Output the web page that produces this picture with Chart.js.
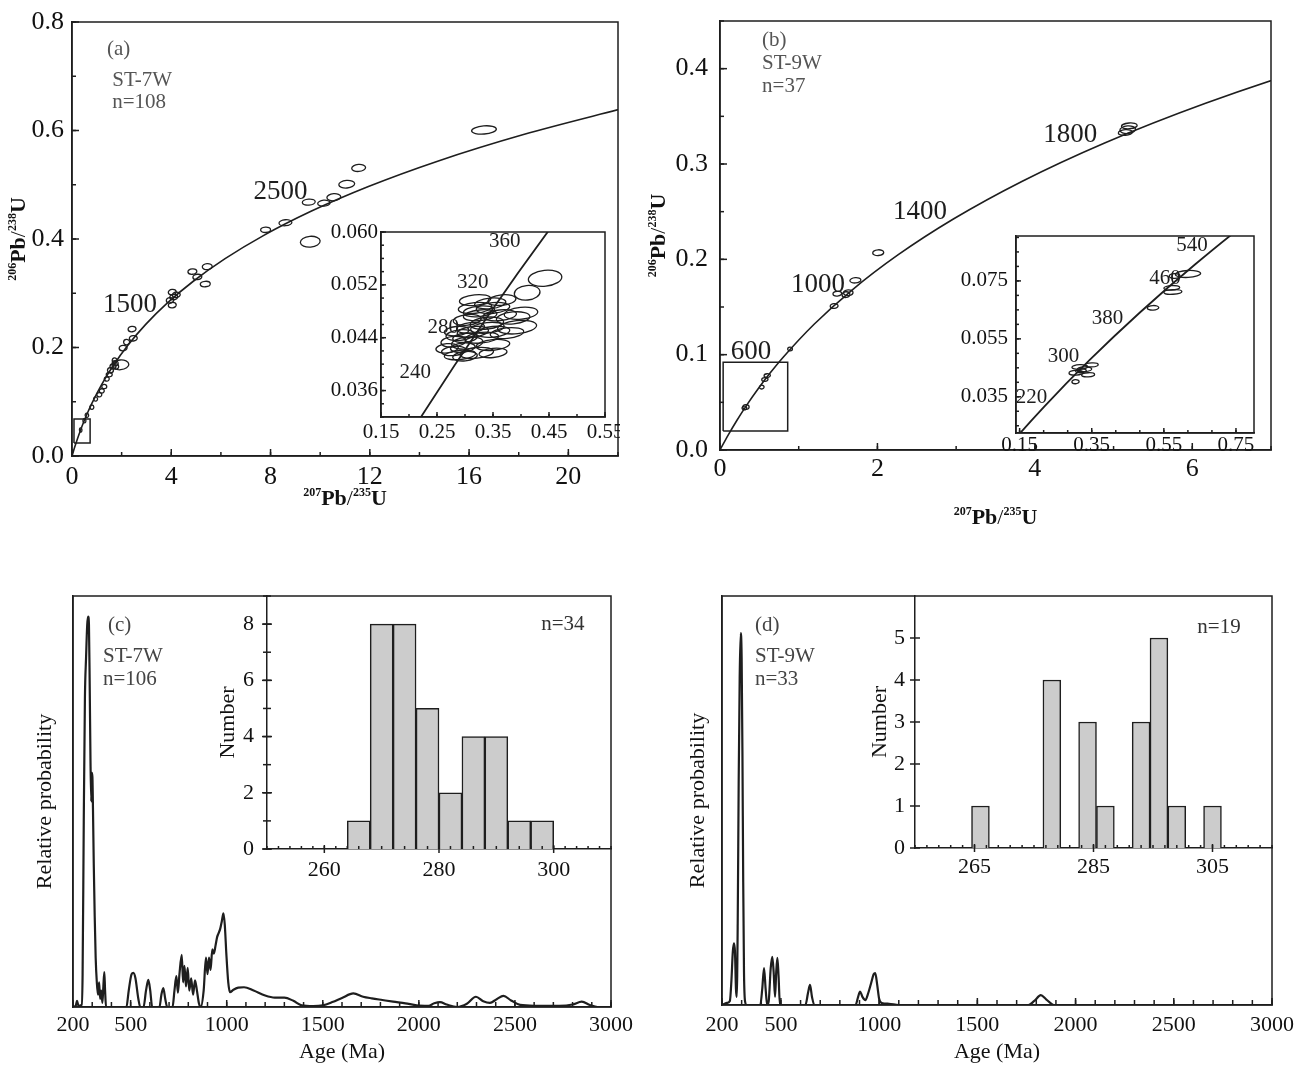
<!DOCTYPE html>
<html>
<head>
<meta charset="utf-8">
<title>Zircon U-Pb concordia and age spectra</title>
<script src="https://cdn.jsdelivr.net/npm/chart.js@4.4.1/dist/chart.umd.min.js"></script>
<style>
body { margin: 0; background: #fff; }
#page { position: relative; width: 1304px; height: 1066px; overflow: hidden; background: #fff; }
#page canvas { position: absolute; }
</style>
</head>
<body>
<div id="page">
  <canvas id="chart-a"></canvas>
  <canvas id="chart-b"></canvas>
  <canvas id="chart-c"></canvas>
  <canvas id="chart-d"></canvas>
  <canvas id="inset-a"></canvas>
  <canvas id="inset-b"></canvas>
  <canvas id="hist-c"></canvas>
  <canvas id="hist-d"></canvas>
</div>
<script>
// CONCORDIA CURVE (age Ma -> 207Pb/235U, 206Pb/238U)
const concAge = [0, 100, 200, 300, 400, 500, 600, 800, 1000, 1200, 1400, 1600, 1800, 2000, 2200, 2400, 2600, 2800, 3000, 3200];
const concX = [0, 0.1035, 0.2177, 0.3437, 0.4828, 0.6363, 0.8056, 1.1987, 1.6774, 2.2603, 2.9701, 3.8344, 4.8869, 6.1685, 7.7291, 9.6296, 11.9437, 14.7617, 18.1931, 22.3716];
const concY = [0, 0.01563, 0.03151, 0.04764, 0.06402, 0.08065, 0.09754, 0.13213, 0.16780, 0.20460, 0.24256, 0.28172, 0.32211, 0.36377, 0.40674, 0.45107, 0.49679, 0.54396, 0.59261, 0.64280];

// (a) ST-7W analyses: centre and 2-sigma half axes
const aEllX = [16.6, 11.55, 11.07, 10.55, 10.15, 9.54, 9.6, 8.6, 7.8, 5.45, 4.85, 5.05, 5.37, 4.04, 4.1, 4.04, 4.2, 3.95, 2.42, 2.47, 2.06, 1.95, 1.74, 1.65, 1.55, 1.5, 1.4, 1.3, 1.2, 1.1, 0.95, 0.8, 0.6, 0.5, 0.35, 1.72, 1.78, 2.2];
const aEllY = [0.601, 0.531, 0.501, 0.477, 0.466, 0.468, 0.395, 0.43, 0.417, 0.349, 0.34, 0.33, 0.317, 0.302, 0.293, 0.278, 0.297, 0.287, 0.234, 0.217, 0.199, 0.168, 0.171, 0.165, 0.158, 0.15, 0.142, 0.128, 0.12, 0.113, 0.105, 0.09, 0.075, 0.065, 0.048, 0.176, 0.165, 0.21];
const aEllSx = [0.5, 0.28, 0.32, 0.28, 0.25, 0.26, 0.4, 0.26, 0.2, 0.2, 0.18, 0.18, 0.2, 0.16, 0.16, 0.16, 0.16, 0.15, 0.16, 0.16, 0.16, 0.34, 0.12, 0.12, 0.12, 0.12, 0.1, 0.1, 0.1, 0.1, 0.08, 0.08, 0.07, 0.06, 0.05, 0.1, 0.1, 0.12];
const aEllSy = [0.0075, 0.0065, 0.007, 0.0065, 0.0055, 0.0055, 0.01, 0.0055, 0.005, 0.0055, 0.005, 0.005, 0.005, 0.005, 0.005, 0.005, 0.005, 0.005, 0.005, 0.005, 0.005, 0.009, 0.005, 0.005, 0.005, 0.004, 0.004, 0.004, 0.004, 0.004, 0.004, 0.004, 0.004, 0.004, 0.004, 0.005, 0.005, 0.005];
const aBoxX = [0.08, 0.73, 0.73, 0.08, 0.08];
const aBoxY = [0.024, 0.024, 0.068, 0.068, 0.024];

// (a) inset, young grains
const aInX = [0.443, 0.411, 0.366, 0.318, 0.318, 0.350, 0.386, 0.393, 0.339, 0.314, 0.291, 0.279, 0.304, 0.350, 0.321, 0.291, 0.350, 0.268, 0.327, 0.362, 0.304, 0.350, 0.375, 0.285, 0.300, 0.296, 0.330, 0.340, 0.310, 0.280, 0.325, 0.345, 0.400, 0.300];
const aInY = [0.0530, 0.0508, 0.0497, 0.0497, 0.0485, 0.0485, 0.0470, 0.0456, 0.0462, 0.0449, 0.0444, 0.0434, 0.0432, 0.0429, 0.0417, 0.0414, 0.0417, 0.0424, 0.0474, 0.0474, 0.0467, 0.0449, 0.0447, 0.0450, 0.0440, 0.0425, 0.0440, 0.0455, 0.0455, 0.0420, 0.0480, 0.0492, 0.0477, 0.0412];
const aInSx = [0.030, 0.023, 0.025, 0.028, 0.030, 0.030, 0.030, 0.035, 0.030, 0.028, 0.025, 0.022, 0.028, 0.030, 0.030, 0.028, 0.025, 0.020, 0.030, 0.030, 0.025, 0.030, 0.030, 0.022, 0.022, 0.022, 0.030, 0.030, 0.025, 0.022, 0.028, 0.028, 0.030, 0.022];
const aInSy = [0.0012, 0.0011, 0.0008, 0.0008, 0.0008, 0.0008, 0.0009, 0.0010, 0.0009, 0.0008, 0.0008, 0.0008, 0.0009, 0.0008, 0.0008, 0.0007, 0.0007, 0.0007, 0.0008, 0.0008, 0.0008, 0.0008, 0.0008, 0.0007, 0.0007, 0.0007, 0.0008, 0.0008, 0.0008, 0.0007, 0.0008, 0.0008, 0.0009, 0.0007];

// (b) ST-9W analyses
const bEllX = [5.18, 5.2, 5.15, 2.01, 1.72, 1.49, 1.63, 1.6, 1.45, 0.89, 0.6, 0.57, 0.53, 0.33, 0.31];
const bEllY = [0.336, 0.340, 0.333, 0.207, 0.178, 0.164, 0.165, 0.163, 0.151, 0.106, 0.078, 0.074, 0.066, 0.045, 0.044];
const bEllSx = [0.1, 0.1, 0.09, 0.07, 0.07, 0.055, 0.06, 0.05, 0.05, 0.03, 0.04, 0.04, 0.03, 0.04, 0.03];
const bEllSy = [0.004, 0.003, 0.003, 0.003, 0.0028, 0.0025, 0.003, 0.003, 0.0025, 0.002, 0.002, 0.002, 0.002, 0.0025, 0.002];
const bBoxX = [0.04, 0.86, 0.86, 0.04, 0.04];
const bBoxY = [0.02, 0.02, 0.092, 0.092, 0.02];

// (b) inset
const bInX = [0.617, 0.58, 0.572, 0.575, 0.52, 0.317, 0.35, 0.307, 0.34, 0.305, 0.33, 0.32];
const bInY = [0.0774, 0.0767, 0.0726, 0.0712, 0.0657, 0.0453, 0.046, 0.0433, 0.0426, 0.0402, 0.0445, 0.0440];
const bInSx = [0.035, 0.015, 0.022, 0.025, 0.016, 0.022, 0.018, 0.02, 0.018, 0.01, 0.02, 0.015];
const bInSy = [0.0012, 0.0008, 0.0008, 0.0008, 0.0008, 0.0008, 0.0007, 0.0008, 0.0007, 0.0007, 0.0008, 0.0007];

// (c) ST-7W relative probability
const cAge = [200, 214, 221, 228, 245, 250, 256, 262, 268, 274, 279, 283, 287, 291, 295, 298, 301, 304, 308, 313,
  318, 324, 330, 336, 341, 347, 353, 358, 363, 367, 372, 470, 478, 490, 505, 514, 525, 540, 550, 567,
  580, 592, 602, 612, 650, 660, 670, 680, 690, 718, 728, 738, 746, 754, 766, 773, 780, 788, 797, 805,
  815, 825, 835, 845, 855, 865, 880, 892, 900, 908, 916, 925, 933, 942, 950, 958, 966, 975, 983, 990,
  998, 1008, 1017, 1035, 1060, 1090, 1140, 1200, 1250, 1300, 1347, 1390, 1450, 1500, 1550, 1600, 1659, 1710, 1755, 1810,
  1866, 1930, 1989, 2050, 2080, 2110, 2145, 2200, 2250, 2297, 2335, 2370, 2405, 2440, 2480, 2527, 2600, 2730, 2800, 2848,
  2890, 2930, 3000];
const cProb = [0, 0.003, 0.015, 0.003, 0.005, 0.08, 0.45, 0.75, 0.85, 0.93, 0.95, 0.93, 0.78, 0.6, 0.5, 0.57, 0.56, 0.48, 0.35, 0.22,
  0.12, 0.06, 0.03, 0.06, 0.02, 0.04, 0.01, 0.05, 0.085, 0.04, 0, 0, 0, 0.04, 0.08, 0.083, 0.07, 0.02, 0, 0,
  0.04, 0.066, 0.04, 0, 0, 0.03, 0.046, 0.02, 0, 0, 0.04, 0.075, 0.035, 0.08, 0.127, 0.06, 0.1, 0.05, 0.095, 0.04,
  0.07, 0.03, 0.065, 0.04, 0.01, 0, 0.04, 0.12, 0.08, 0.12, 0.09, 0.14, 0.13, 0.15, 0.17, 0.18, 0.19, 0.21, 0.228, 0.2,
  0.13, 0.06, 0.036, 0.042, 0.047, 0.048, 0.04, 0.028, 0.023, 0.023, 0.015, 0.004, 0.002, 0.004, 0.012, 0.022, 0.033, 0.025, 0.021, 0.017,
  0.013, 0.009, 0.004, 0.003, 0.009, 0.012, 0.006, 0, 0.008, 0.025, 0.014, 0.01, 0.019, 0.027, 0.016, 0.005, 0.003, 0.003, 0.006, 0.013,
  0.005, 0, 0];

// (d) ST-9W relative probability
const dAge = [200, 225, 240, 248, 255, 261, 266, 271, 275, 280, 285, 290, 295, 300, 304, 308, 312, 317, 325, 395,
  405, 414, 422, 430, 438, 448, 456, 463, 470, 476, 482, 488, 495, 625, 638, 648, 658, 670, 880, 893,
  903, 915, 930, 945, 960, 972, 980, 990, 1000, 1013, 1050, 1100, 1760, 1790, 1823, 1850, 1890, 3000];
const dProb = [0, 0.005, 0.01, 0.06, 0.13, 0.151, 0.13, 0.04, 0.02, 0.2, 0.55, 0.8, 0.909, 0.85, 0.62, 0.3, 0.08, 0.01, 0, 0,
  0.04, 0.09, 0.04, 0, 0.01, 0.09, 0.118, 0.08, 0.02, 0.08, 0.115, 0.07, 0, 0, 0.03, 0.049, 0.02, 0, 0, 0.02,
  0.033, 0.02, 0.012, 0.03, 0.055, 0.075, 0.078, 0.05, 0.015, 0.005, 0.003, 0, 0, 0.01, 0.024, 0.014, 0, 0];

// histograms (bin centre, count)
const histCBins = [266, 270, 274, 278, 282, 286, 290, 294, 298];
const histCCounts = [1, 8, 8, 5, 2, 4, 4, 1, 1];
const histDBins = [266, 278, 284, 287, 293, 296, 299, 305];
const histDCounts = [1, 4, 3, 1, 3, 5, 1, 1];

// tick labels
const ageTicks = [200, 500, 1000, 1500, 2000, 2500, 3000];
const aXTicks = [0, 4, 8, 12, 16, 20];
const aYTicks = [0, 0.2, 0.4, 0.6, 0.8];
const bXTicks = [0, 2, 4, 6];
const bYTicks = [0, 0.1, 0.2, 0.3, 0.4];
const aInXTicks = [0.15, 0.25, 0.35, 0.45, 0.55];
const aInYTicks = [0.036, 0.044, 0.052, 0.060];
const bInXTicks = [0.15, 0.35, 0.55, 0.75];
const bInYTicks = [0.035, 0.055, 0.075];
const histCXTicks = [260, 280, 300];
const histCYTicks = [0, 2, 4, 6, 8];
const histDXTicks = [265, 285, 305];
const histDYTicks = [0, 1, 2, 3, 4, 5];

// axis titles with superscript mass numbers
const pb207Title = [{ t: '207', sup: true }, { t: 'Pb' }, { t: '/', plain: true }, { t: '235', sup: true }, { t: 'U' }];
const pb206Title = [{ t: '206', sup: true }, { t: 'Pb' }, { t: '/', plain: true }, { t: '238', sup: true }, { t: 'U' }];

const FONT = 'Liberation Serif';
const INK = '#1e1e1e';

function steps(a, b, d) {
    const out = [];
    for (let v = a; v <= b + d / 1000; v += d) out.push(Math.round(v * 1e6) / 1e6);
    return out;
}
function pairs(xs, ys) {
    return xs.map((x, i) => ({ x: x, y: ys[i] }));
}

// PLUGINS
// error ellipses, sized from the scales
const ellipsePlugin = {
    id: 'ellipses',
    afterDatasetsDraw(chart) {
        const ctx = chart.ctx, xs = chart.scales.x, ys = chart.scales.y, a = chart.chartArea;
        ctx.save();
        ctx.beginPath();
        ctx.rect(a.left, a.top, a.right - a.left, a.bottom - a.top);
        ctx.clip();
        chart.data.datasets.forEach(ds => {
            if (!ds.sx) return;
            ctx.strokeStyle = INK;
            ctx.lineWidth = 1.3;
            ds.data.forEach((p, i) => {
                const cx = xs.getPixelForValue(p.x), cy = ys.getPixelForValue(p.y);
                const rx = Math.abs(xs.getPixelForValue(p.x + ds.sx[i]) - cx);
                const ry = Math.abs(ys.getPixelForValue(p.y + ds.sy[i]) - cy);
                ctx.beginPath();
                ctx.ellipse(cx, cy, rx, ry, ds.tilt || 0, 0, Math.PI * 2);
                ctx.stroke();
            });
        });
        ctx.restore();
    }
};

// box round the plot and inward ticks
const framePlugin = {
    id: 'frame',
    afterDraw(chart, args, opts) {
        const ctx = chart.ctx, a = chart.chartArea;
        ctx.save();
        ctx.strokeStyle = INK;
        ctx.lineWidth = 1.5;
        if (opts.box) ctx.strokeRect(a.left, a.top, a.right - a.left, a.bottom - a.top);
        ['x', 'y'].forEach(id => {
            const t = opts[id];
            if (!t) return;
            const s = chart.scales[id];
            const marks = [];
            (t.minorAt || []).forEach(v => marks.push([v, t.minorLen || 0, t.minorOut || 0]));
            s.ticks.forEach(tk => marks.push([tk.value, t.len || 0, t.out || 0]));
            marks.forEach(m => {
                const p = s.getPixelForValue(m[0]);
                ctx.beginPath();
                if (id === 'x') { ctx.moveTo(p, a.bottom + m[2]); ctx.lineTo(p, a.bottom - m[1]); }
                else { ctx.moveTo(a.left - m[2], p); ctx.lineTo(a.left + m[1], p); }
                ctx.stroke();
            });
        });
        ctx.restore();
    }
};

// text placed at data coordinates
const notesPlugin = {
    id: 'notes',
    afterDraw(chart, args, opts) {
        const ctx = chart.ctx;
        ctx.save();
        (opts.items || []).forEach(n => {
            ctx.font = (n.size || 21) + 'px "' + FONT + '"';
            ctx.fillStyle = n.color || INK;
            ctx.textAlign = n.align || 'left';
            ctx.textBaseline = 'middle';
            ctx.fillText(n.text, chart.scales.x.getPixelForValue(n.x), chart.scales.y.getPixelForValue(n.y));
        });
        ctx.restore();
    }
};

// isotope ratio axis titles (small superscripts, bold symbols)
const ratioTitlePlugin = {
    id: 'ratioTitle',
    afterDraw(chart, args, opts) {
        const ctx = chart.ctx, a = chart.chartArea;
        const fontOf = p => p.sup ? 'bold 12px "' + FONT + '"' : (p.plain ? '22px "' + FONT + '"' : 'bold 22px "' + FONT + '"');
        function draw(parts, cx, cy, rot) {
            ctx.save();
            ctx.translate(cx, cy);
            ctx.rotate(rot);
            let w = 0;
            parts.forEach(p => { ctx.font = fontOf(p); w += ctx.measureText(p.t).width; });
            let x = -w / 2;
            ctx.fillStyle = '#111';
            ctx.textAlign = 'left';
            ctx.textBaseline = 'alphabetic';
            parts.forEach(p => {
                ctx.font = fontOf(p);
                ctx.fillText(p.t, x, p.sup ? -2 : 7);
                x += ctx.measureText(p.t).width;
            });
            ctx.restore();
        }
        if (opts.x) draw(opts.x.parts, (a.left + a.right) / 2, a.bottom + opts.x.off, 0);
        if (opts.y) draw(opts.y.parts, a.left - opts.y.off, (a.top + a.bottom) / 2, -Math.PI / 2);
    }
};

// SCALES
function axis(o) {
    return {
        type: 'linear',
        min: o.min,
        max: o.max,
        offset: false,
        grid: { display: false, drawTicks: false },
        border: { display: true, color: INK, width: 1.5 },
        afterBuildTicks: s => { s.ticks = o.major.map(v => ({ value: v })); },
        afterFit: s => {
            if (o.w !== undefined) s.width = o.w;
            if (o.h !== undefined) s.height = o.h;
            s.paddingLeft = 0; s.paddingRight = 0; s.paddingTop = 0; s.paddingBottom = 0;
        },
        ticks: {
            display: o.show !== false,
            autoSkip: false,
            maxRotation: 0,
            minRotation: 0,
            padding: o.pad || 0,
            color: '#111',
            font: { family: FONT, size: o.size || 22 },
            callback: v => o.fmt ? o.fmt(v) : String(v)
        },
        title: o.title ? {
            display: true,
            text: o.title,
            color: '#111',
            font: { family: FONT, size: 22 },
            padding: o.tpad
        } : { display: false }
    };
}

function makeChart(id, box, area, type, datasets, xo, yo, frame, notes, titles) {
    const cv = document.getElementById(id);
    cv.width = box[2];
    cv.height = box[3];
    cv.style.left = box[0] + 'px';
    cv.style.top = box[1] + 'px';
    xo.h = box[1] + box[3] - area[3];
    yo.w = area[0] - box[0];
    return new Chart(cv.getContext('2d'), {
        type: type,
        data: { datasets: datasets },
        options: {
            responsive: false,
            animation: false,
            events: [],
            layout: { padding: { left: 0, top: area[1] - box[1], right: box[0] + box[2] - area[2], bottom: 0 } },
            scales: { x: axis(xo), y: axis(yo) },
            plugins: {
                legend: { display: false },
                tooltip: { enabled: false },
                frame: frame,
                notes: { items: notes },
                ratioTitle: titles || {}
            }
        },
        plugins: [ellipsePlugin, framePlugin, notesPlugin, ratioTitlePlugin]
    });
}

function curveSet(xs, ys, w) {
    return { data: pairs(xs, ys), showLine: true, pointRadius: 0, borderColor: INK, borderWidth: w, cubicInterpolationMode: 'monotone', fill: false };
}
function boxSet(xs, ys) {
    return { data: pairs(xs, ys), showLine: true, pointRadius: 0, borderColor: INK, borderWidth: 1.5, tension: 0, fill: false };
}
function ellSet(xs, ys, sx, sy, tilt) {
    return { data: pairs(xs, ys), sx: sx, sy: sy, tilt: tilt, showLine: false, pointRadius: 0 };
}
function barSet(bins, counts) {
    return { data: pairs(bins, counts), backgroundColor: '#cccccc', borderColor: INK, borderWidth: 1.5, barPercentage: 1, categoryPercentage: 1 };
}

const fmt1 = v => v.toFixed(1);
const fmt2 = v => v.toFixed(2);
const fmt3 = v => v.toFixed(3);
const gray = '#555';

// CONCORDIA (a)
function loadChartA() {
    makeChart('chart-a', [0, 0, 645, 525], [72, 22, 618, 456], 'scatter',
        [curveSet(concX, concY, 1.6), ellSet(aEllX, aEllY, aEllSx, aEllSy, -0.08), boxSet(aBoxX, aBoxY)],
        { min: 0, max: 22, major: aXTicks, size: 26, pad: 6 },
        { min: 0, max: 0.8, major: aYTicks, size: 26, pad: 8, fmt: fmt1 },
        { box: true, x: { len: 7, minorLen: 4, minorAt: steps(0, 22, 2) }, y: { len: 7, minorLen: 4, minorAt: steps(0, 0.8, 0.1) } },
        [
            { x: 1.41, y: 0.75, text: '(a)', color: gray },
            { x: 1.62, y: 0.693, text: 'ST-7W', color: gray },
            { x: 1.62, y: 0.652, text: 'n=108', color: gray },
            { x: 2.34, y: 0.278, text: '1500', size: 27, align: 'center' },
            { x: 8.4, y: 0.487, text: '2500', size: 27, align: 'center' }
        ],
        { x: { parts: pb207Title, off: 42 }, y: { parts: pb206Title, off: 54 } });
}

function loadInsetA() {
    makeChart('inset-a', [315, 222, 305, 232], [381, 232, 605, 417], 'scatter',
        [curveSet(concX, concY, 1.8), ellSet(aInX, aInY, aInSx, aInSy, -0.1)],
        { min: 0.15, max: 0.55, major: aInXTicks, size: 21, pad: 3, fmt: fmt2 },
        { min: 0.032, max: 0.060, major: aInYTicks, size: 21, pad: 3, fmt: fmt3 },
        { box: true, x: { len: 5, minorLen: 3, minorAt: steps(0.15, 0.55, 0.05) }, y: { len: 5, minorLen: 3, minorAt: steps(0.032, 0.06, 0.002) } },
        [
            { x: 0.371, y: 0.0585, text: '360', align: 'center' },
            { x: 0.314, y: 0.0523, text: '320', align: 'center' },
            { x: 0.261, y: 0.0455, text: '280', align: 'center' },
            { x: 0.211, y: 0.0388, text: '240', align: 'center' }
        ]);
}

// CONCORDIA (b)
function loadChartB() {
    makeChart('chart-b', [640, 0, 664, 540], [720, 21, 1271, 450], 'scatter',
        [curveSet(concX, concY, 1.6), ellSet(bEllX, bEllY, bEllSx, bEllSy, -0.08), boxSet(bBoxX, bBoxY)],
        { min: 0, max: 7, major: bXTicks, size: 26, pad: 4 },
        { min: 0, max: 0.45, major: bYTicks, size: 26, pad: 12, fmt: fmt1 },
        { box: true, x: { len: 7, minorLen: 4, minorAt: steps(0, 7, 1) }, y: { len: 7, minorLen: 4, minorAt: steps(0, 0.45, 0.05) } },
        [
            { x: 0.534, y: 0.43, text: '(b)', color: gray },
            { x: 0.534, y: 0.405, text: 'ST-9W', color: gray },
            { x: 0.534, y: 0.381, text: 'n=37', color: gray },
            { x: 4.45, y: 0.331, text: '1800', size: 27, align: 'center' },
            { x: 2.54, y: 0.25, text: '1400', size: 27, align: 'center' },
            { x: 1.245, y: 0.173, text: '1000', size: 27, align: 'center' },
            { x: 0.394, y: 0.103, text: '600', size: 27, align: 'center' }
        ],
        { x: { parts: pb207Title, off: 67 }, y: { parts: pb206Title, off: 62 } });
}

function loadInsetB() {
    makeChart('inset-b', [950, 226, 320, 231], [1016, 236, 1254, 433], 'scatter',
        [curveSet(concX, concY, 1.8), ellSet(bInX, bInY, bInSx, bInSy, -0.05)],
        { min: 0.14, max: 0.8, major: bInXTicks, size: 21, pad: 0, fmt: fmt2 },
        { min: 0.0225, max: 0.0905, major: bInYTicks, size: 21, pad: 8, fmt: fmt3 },
        { box: true, x: { len: 5, minorLen: 3, minorAt: steps(0.15, 0.75, 0.2 / 3) }, y: { len: 5, minorLen: 3, minorAt: steps(0.025, 0.09, 0.005) } },
        [
            { x: 0.628, y: 0.0871, text: '540', align: 'center' },
            { x: 0.553, y: 0.0757, text: '460', align: 'center' },
            { x: 0.394, y: 0.0622, text: '380', align: 'center' },
            { x: 0.272, y: 0.0488, text: '300', align: 'center' },
            { x: 0.183, y: 0.0347, text: '220', align: 'center' }
        ]);
}

// PROBABILITY PLOTS (c), (d)
function loadChartC() {
    makeChart('chart-c', [0, 570, 640, 496], [73, 596, 611, 1007], 'scatter',
        [curveSet(cAge, cProb, 2.2)],
        { min: 200, max: 3000, major: ageTicks, size: 22, pad: 5, title: 'Age (Ma)', tpad: { bottom: 1 } },
        { min: 0, max: 1, major: [0, 1], show: false, title: 'Relative probability', tpad: { top: 32 } },
        { box: true, x: { len: 7, minorLen: 5, minorAt: steps(200, 3000, 100) } },
        [
            { x: 382, y: 0.929, text: '(c)', color: '#444' },
            { x: 356, y: 0.852, text: 'ST-7W', color: '#444' },
            { x: 356, y: 0.796, text: 'n=106', color: '#444' }
        ]);
}

function loadChartD() {
    makeChart('chart-d', [650, 570, 654, 496], [722, 596, 1272, 1005], 'scatter',
        [curveSet(dAge, dProb, 2.2)],
        { min: 200, max: 3000, major: ageTicks, size: 22, pad: 7, title: 'Age (Ma)', tpad: { bottom: 1 } },
        { min: 0, max: 1, major: [0, 1], show: false, title: 'Relative probability', tpad: { top: 35 } },
        { box: true, x: { len: 7, minorLen: 5, minorAt: steps(200, 3000, 100) } },
        [
            { x: 368, y: 0.929, text: '(d)', color: '#444' },
            { x: 368, y: 0.851, text: 'ST-9W', color: '#444' },
            { x: 368, y: 0.795, text: 'n=33', color: '#444' }
        ]);
}

// HISTOGRAMS
function loadHistC() {
    makeChart('hist-c', [195, 580, 425, 305], [267, 596, 611, 849], 'bar',
        [barSet(histCBins, histCCounts)],
        { min: 250, max: 310, major: histCXTicks, size: 22, pad: 8 },
        { min: 0, max: 9, major: histCYTicks, size: 22, pad: 13, title: 'Number', tpad: { top: 20 } },
        { x: { len: 4, out: 4, minorLen: 3, minorAt: steps(250, 310, 2) }, y: { len: 5, out: 5, minorLen: 4, minorOut: 4, minorAt: steps(0, 9, 1) } },
        [{ x: 301.6, y: 8.0, text: 'n=34', align: 'center', color: '#333' }]);
}

function loadHistD() {
    makeChart('hist-d', [845, 580, 435, 305], [915, 596, 1272, 848], 'bar',
        [barSet(histDBins, histDCounts)],
        { min: 255, max: 315, major: histDXTicks, size: 22, pad: 6 },
        { min: 0, max: 6, major: histDYTicks, size: 22, pad: 10, title: 'Number', tpad: { top: 22 } },
        { x: { len: 4, out: 4, minorLen: 3, minorAt: steps(255, 315, 2) }, y: { len: 5, out: 5 } },
        [{ x: 306.1, y: 5.24, text: 'n=19', align: 'center', color: '#333' }]);
}

// INIT
function initPage() {
    loadChartA();
    loadChartB();
    loadChartC();
    loadChartD();
    loadInsetA();
    loadInsetB();
    loadHistC();
    loadHistD();
}
initPage();
</script>
</body>
</html>
